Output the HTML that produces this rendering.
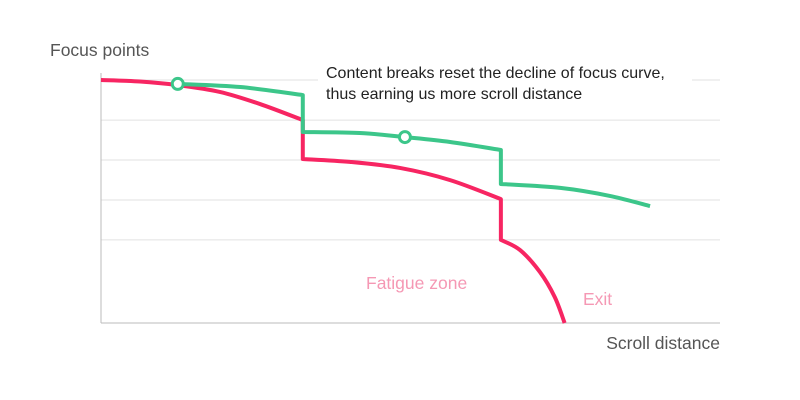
<!DOCTYPE html>
<html><head><meta charset="utf-8"><style>
html,body{margin:0;padding:0;background:#fff;}
svg{display:block;font-family:"Liberation Sans",sans-serif;}
</style></head><body>
<svg id="chart" width="800" height="400">
<g id="grid"></g>
<line x1="101" y1="73" x2="101" y2="323" stroke="#bbb" stroke-width="1"/>
<line x1="101" y1="323" x2="720" y2="323" stroke="#bbb" stroke-width="1"/>
<text x="50" y="56" font-size="17.5" fill="#555">Focus points</text>
<text x="720" y="349" font-size="17.5" fill="#555" text-anchor="end">Scroll distance</text>
<text x="326" y="78" font-size="16" fill="#222">Content breaks reset the decline of focus curve,</text>
<text x="326" y="99" font-size="16" fill="#222">thus earning us more scroll distance</text>
<text x="366" y="289" font-size="17.5" fill="#f598b4">Fatigue zone</text>
<text x="583" y="305" font-size="17.5" fill="#f598b4">Exit</text>
<g id="series"></g>
</svg>
<script>
const gridValues = [100, 83.5, 67.1, 50.6, 34.2];
const redX = [0, 6.3, 12.4, 19.2, 25.7, 32.6, 32.6, 40.2, 48.3, 56.4, 64.6, 64.6, 67.7, 70.9, 73.3, 74.9];
const redY = [100, 99.4, 97.9, 95.1, 90.1, 83.5, 67.5, 66.3, 63.8, 58.8, 51.0, 34.2, 30.0, 21.0, 10.7, 0];
const greenX = [12.4, 22.5, 32.6, 32.6, 41.8, 49.1, 56.4, 64.6, 64.6, 74.2, 82.2, 88.7];
const greenY = [98.4, 97.1, 93.8, 78.6, 78.2, 76.5, 74.5, 71.2, 57.2, 55.6, 52.3, 48.1];
const markerX = [12.4, 49.1];
const markerY = [98.4, 76.5];

const NS = "http://www.w3.org/2000/svg";
const sx = v => 101 + v * 6.19;
const sy = v => 323 - v * 2.43;

const grid = document.getElementById('grid');
gridValues.forEach((g, i) => {
  const segs = i === 0 ? [[101, 318], [692, 720]] : [[101, 720]];
  segs.forEach(s => {
    const l = document.createElementNS(NS, 'line');
    
    
    l.setAttribute('x1', s[0]); l.setAttribute('x2', s[1]);
    l.setAttribute('y1', sy(g)); l.setAttribute('y2', sy(g));
    l.setAttribute('stroke', '#e2e2e2'); l.setAttribute('stroke-width', '1');
    grid.appendChild(l);
  });
});

function smoothPath(xs, ys) {
  const pts = xs.map((x, i) => [sx(x), sy(ys[i])]);
  // split into segments at vertical jumps
  const segs = [[pts[0]]];
  for (let i = 1; i < pts.length; i++) {
    if (xs[i] === xs[i - 1]) segs.push([pts[i]]);
    else segs[segs.length - 1].push(pts[i]);
  }
  let d = '';
  segs.forEach((s, si) => {
    d += (si === 0 ? 'M' : 'L') + s[0][0] + ',' + s[0][1];
    for (let i = 0; i < s.length - 1; i++) {
      const p0 = s[Math.max(i - 1, 0)], p1 = s[i], p2 = s[i + 1], p3 = s[Math.min(i + 2, s.length - 1)];
      const c1 = [p1[0] + (p2[0] - p0[0]) / 6, p1[1] + (p2[1] - p0[1]) / 6];
      const c2 = [p2[0] - (p3[0] - p1[0]) / 6, p2[1] - (p3[1] - p1[1]) / 6];
      d += ' C' + c1 + ' ' + c2 + ' ' + p2;
    }
    d += ' ';
  });
  return d;
}

const series = document.getElementById('series');
function line(xs, ys, color, name) {
  const p = document.createElementNS(NS, 'path');
  
  
  p.setAttribute('d', smoothPath(xs, ys));
  p.setAttribute('fill', 'none');
  p.setAttribute('stroke', color);
  p.setAttribute('stroke-width', '4');
  p.setAttribute('stroke-linejoin', 'round');
  series.appendChild(p);
}
line(redX, redY, '#f72562', 'red-focus-curve');
line(greenX, greenY, '#3cc68a', 'green-focus-curve');
markerX.forEach((x, i) => {
  const c = document.createElementNS(NS, 'circle');
  
  
  c.setAttribute('cx', sx(x)); c.setAttribute('cy', sy(markerY[i]));
  c.setAttribute('r', '5.5');
  c.setAttribute('fill', '#fff'); c.setAttribute('stroke', '#3cc68a'); c.setAttribute('stroke-width', '3');
  series.appendChild(c);
});
</script>
</body></html>
